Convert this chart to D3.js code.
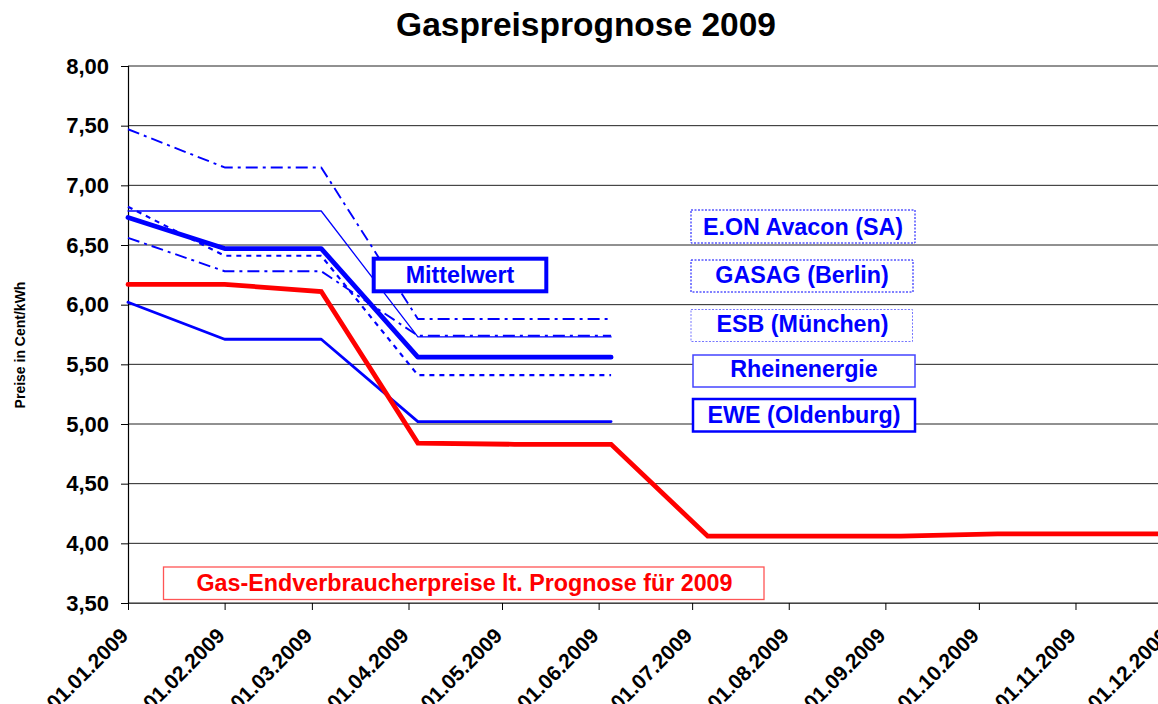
<!DOCTYPE html>
<html>
<head>
<meta charset="utf-8">
<script src="https://cdn.jsdelivr.net/npm/d3@7"></script>
<style>
  html, body { margin: 0; padding: 0; background: #fff; }
  svg { display: block; font-family: "Liberation Sans", Arial, sans-serif; }
</style>
</head>
<body>
<svg id="chart" width="1158" height="704"></svg>
<script>
// ---- data ----
const pointDates = ["2009-01-01","2009-02-01","2009-03-04","2009-04-04","2009-05-05","2009-06-05",
                    "2009-07-06","2009-08-06","2009-09-06","2009-10-07","2009-11-07","2009-12-08"];
const seriesNames = ["E.ON Avacon (SA)", "GASAG (Berlin)", "ESB (München)", "Rheinenergie", "EWE (Oldenburg)", "Mittelwert"];
const eonValues    = [7.47, 7.15, 7.15, 5.88, 5.88, 5.88];
const gasagValues  = [6.56, 6.28, 6.28, 5.74, 5.74, 5.74];
const esbValues    = [6.82, 6.41, 6.41, 5.41, 5.41, 5.41];
const rheinValues  = [6.785, 6.785, 6.785, 5.73, 5.73, 5.73];
const eweValues    = [6.02, 5.71, 5.71, 5.02, 5.02, 5.02];
const mittelValues = [6.73, 6.47, 6.47, 5.56, 5.56, 5.56];
const prognoseName = "Gas-Endverbraucherpreise lt. Prognose für 2009";
const prognoseValues = [6.17, 6.17, 6.11, 4.84, 4.83, 4.83, 4.06, 4.06, 4.06, 4.08, 4.08, 4.08];
const xTickDates = ["2009-01-01","2009-02-01","2009-03-01","2009-04-01","2009-05-01","2009-06-01",
                    "2009-07-01","2009-08-01","2009-09-01","2009-10-01","2009-11-01","2009-12-01"];
const yTickValues = [3.5, 4.0, 4.5, 5.0, 5.5, 6.0, 6.5, 7.0, 7.5, 8.0];
const chartTitle = "Gaspreisprognose 2009";
const yAxisTitle = "Preise in Cent/kWh";

// ---- setup ----
const parse = d3.timeParse("%Y-%m-%d");
const fmtDate = d3.timeFormat("%d.%m.%Y");
const fmtNum = v => d3.format(".2f")(v).replace(".", ",");
const svg = d3.select("#chart");
const W = 1158, H = 704;
const plotLeft = 128, plotTop = 66, plotBottom = 603;
const x = d3.scaleTime().domain([parse("2009-01-01"), parse("2009-12-01")]).range([plotLeft, 1169]);
const y = d3.scaleLinear().domain([3.5, 8]).range([plotBottom, plotTop]);

// title
svg.append("text").attr("x", 586).attr("y", 36).attr("text-anchor", "middle")
  .attr("font-size", 33.5).attr("font-weight", "bold").attr("fill", "#000").text(chartTitle);

// gridlines
svg.append("g").selectAll("line").data(yTickValues).join("line")
  .attr("x1", plotLeft).attr("x2", W).attr("y1", d => y(d)).attr("y2", d => y(d))
  .attr("stroke", "#222").attr("stroke-width", 1);

// y axis
const yAxis = d3.axisLeft(y).tickValues(yTickValues).tickFormat(fmtNum).tickSize(7).tickPadding(12);
const gy = svg.append("g").attr("transform", `translate(${plotLeft},0)`).call(yAxis);
gy.select(".domain").attr("stroke", "#000").attr("stroke-width", 1.2);
gy.selectAll(".tick line").attr("stroke", "#000");
gy.selectAll("text").attr("font-size", 22).attr("font-weight", "bold").attr("fill", "#000")
  .attr("font-family", "Liberation Sans, Arial, sans-serif");

// x axis
const xAxis = d3.axisBottom(x).tickValues(xTickDates.map(parse)).tickFormat(fmtDate).tickSize(7).tickSizeOuter(0);
const gx = svg.append("g").attr("transform", `translate(0,${plotBottom})`).call(xAxis);
gx.select(".domain").attr("stroke", "#444").attr("stroke-width", 1.2);
gx.selectAll(".tick line").attr("stroke", "#000");
gx.selectAll("text").attr("font-size", 21).attr("font-weight", "bold").attr("fill", "#000")
  .attr("font-family", "Liberation Sans, Arial, sans-serif")
  .attr("text-anchor", "end").attr("dy", 0)
  .attr("transform", "translate(1,34) rotate(-45)").attr("y", 0).attr("x", 0);

// y axis title
svg.append("text").attr("transform", "translate(25,345) rotate(-90)").attr("text-anchor", "middle")
  .attr("font-size", 14).attr("font-weight", "bold").attr("fill", "#000").text(yAxisTitle);

// ---- lines ----
const dates = pointDates.map(parse);
const line = d3.line().x((d, i) => x(dates[i])).y(d => y(d));
const blue = "#0000FF";
const blueSeries = [
  {v: eonValues,    w: 1.9, dash: "12,5,3,5"},
  {v: gasagValues,  w: 1.9, dash: "12,5,3,5"},
  {v: esbValues,    w: 2.2, dash: "5,5"},
  {v: rheinValues,  w: 1.3, dash: null},
  {v: eweValues,    w: 2.8, dash: null},
  {v: mittelValues, w: 4.8, dash: null}
];
const lg = svg.append("g");
blueSeries.forEach(s => {
  lg.append("path").attr("d", line(s.v)).attr("fill", "none").attr("stroke", blue)
    .attr("stroke-width", s.w).attr("stroke-dasharray", s.dash)
    .attr("stroke-linecap", s.dash ? "butt" : "round").attr("stroke-linejoin", "round");
});
lg.append("path").attr("d", line(prognoseValues)).attr("fill", "none").attr("stroke", "#FF0000")
  .attr("stroke-width", 4.8).attr("stroke-linecap", "round").attr("stroke-linejoin", "miter");

// ---- labels ----
const labelBoxes = [
  {name: seriesNames[0], x0: 691, y0: 210, x1: 915, y1: 243, cx: 803, by: 235, stroke: blue, sw: 1, dash: "2,1.5", color: blue},
  {name: seriesNames[1], x0: 691, y0: 260, x1: 913, y1: 292, cx: 802, by: 283, stroke: blue, sw: 1, dash: "2,1.5", color: blue},
  {name: seriesNames[2], x0: 691, y0: 309.5, x1: 912.5, y1: 341.5, cx: 802.5, by: 332, stroke: "#7777ff", sw: 1, dash: "2,1.5", color: blue},
  {name: seriesNames[3], x0: 693, y0: 355, x1: 915, y1: 387, cx: 804, by: 376.5, stroke: "#4444ff", sw: 1.5, dash: null, color: blue},
  {name: seriesNames[4], x0: 693, y0: 399, x1: 915, y1: 431.5, cx: 804, by: 422.5, stroke: blue, sw: 2.5, dash: null, color: blue},
  {name: seriesNames[5], x0: 373.7, y0: 258.7, x1: 546.3, y1: 291.3, cx: 460, by: 283, stroke: blue, sw: 4, dash: null, color: blue},
  {name: prognoseName, x0: 163.5, y0: 567, x1: 764, y1: 599.5, cx: 464.5, by: 591, stroke: "#ff5555", sw: 1.3, dash: null, color: "#FF0000"}
];
const lb = svg.append("g");
labelBoxes.forEach(b => {
  lb.append("rect").attr("x", b.x0).attr("y", b.y0).attr("width", b.x1 - b.x0).attr("height", b.y1 - b.y0)
    .attr("fill", "#fff").attr("stroke", b.stroke).attr("stroke-width", b.sw).attr("stroke-dasharray", b.dash);
  lb.append("text").attr("x", b.cx).attr("y", b.by).attr("text-anchor", "middle")
    .attr("font-size", 23.3).attr("font-weight", "bold").attr("fill", b.color).text(b.name);
});
</script>
</body>
</html>
